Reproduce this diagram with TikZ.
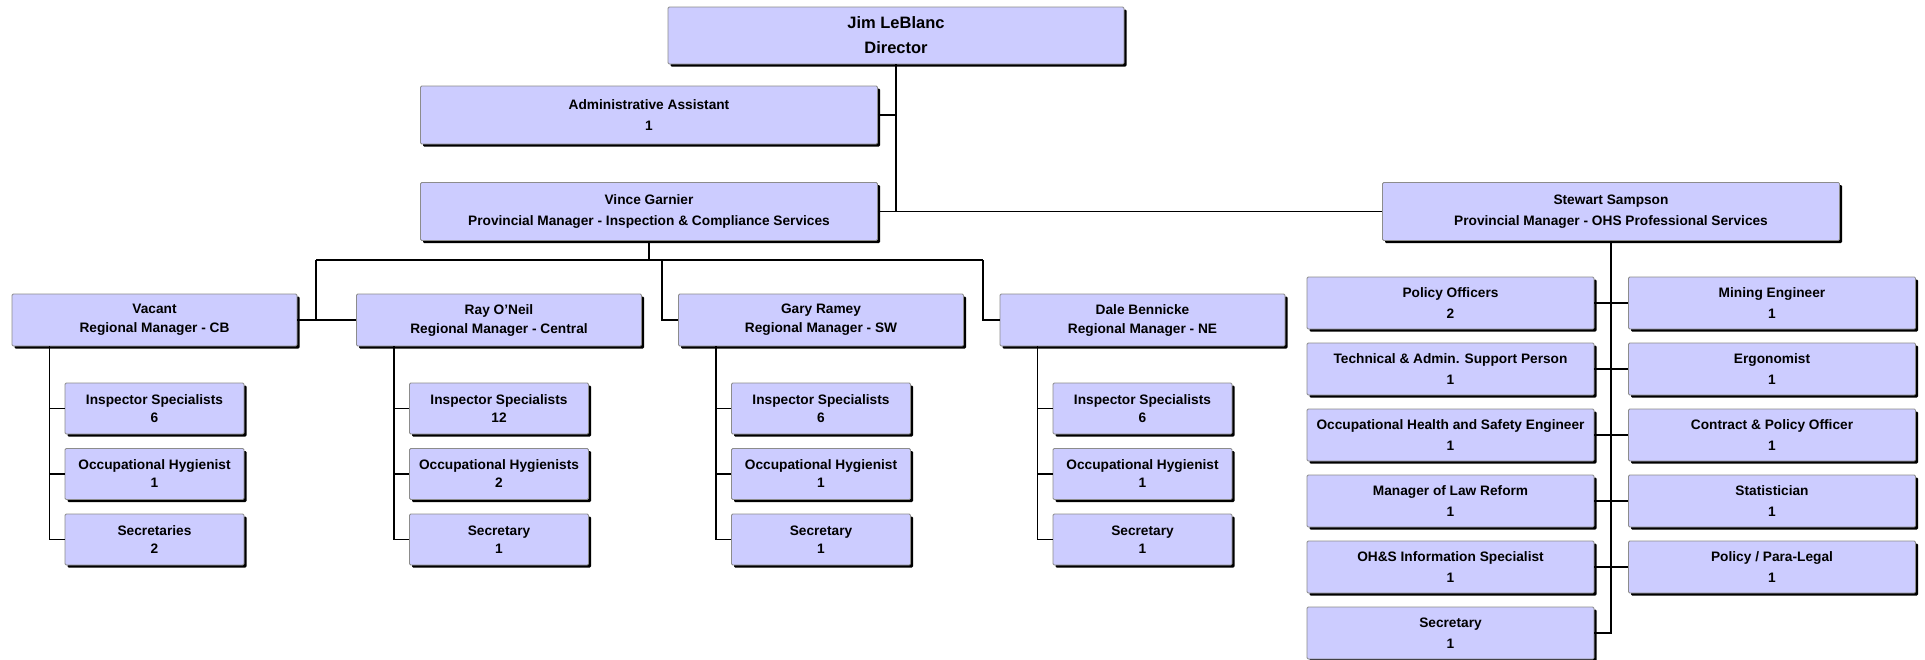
\documentclass[tikz,border=0pt]{standalone}
\usepackage{fontspec}
\setmainfont{Liberation Sans}
\usetikzlibrary{shadows}
\usetikzlibrary{calc}
\definecolor{boxfill}{HTML}{CCCCFF}
\definecolor{boxedge}{HTML}{8C8C8C}
\tikzset{
    orgbox/.style={rectangle, draw=boxedge, line width=0.8pt, fill=boxfill,
        rounded corners=1.2pt, align=center, inner sep=0pt,
        drop shadow={shadow xshift=2.5pt, shadow yshift=-2.5pt, fill=black, opacity=1}},
    dirbox/.style={orgbox, minimum width=456pt, minimum height=57pt,
        font=\bfseries\fontsize{16.5}{25}\selectfont},
    mgrbox/.style={orgbox, minimum width=457pt, minimum height=58pt,
        font=\bfseries\fontsize{13.7}{21}\selectfont},
    regbox/.style={orgbox, minimum width=285pt, minimum height=52pt,
        font=\bfseries\fontsize{13.7}{19}\selectfont},
    staffbox/.style={orgbox, minimum width=179pt, minimum height=51pt,
        font=\bfseries\fontsize{13.7}{18}\selectfont},
    ohsbox/.style={orgbox, minimum width=287pt, minimum height=52pt,
        font=\bfseries\fontsize{13.7}{21}\selectfont},
    link/.style={draw=black, line width=1.4pt},
}

\begin{document}
\begin{tikzpicture}[x=1pt,y=-1pt]
	\useasboundingbox (0,0) rectangle (1925,659);
	% top of the chart
	\node[dirbox] (dir) at (896,35.5) {Jim LeBlanc\\Director};
	\node[mgrbox] (admin) at (649,115) {Administrative Assistant\\1};
	\node[mgrbox] (vince) at (649,211.5) {Vince Garnier\\Provincial Manager - Inspection \& Compliance Services};
	\node[mgrbox] (stew) at (1611,211.5) {Stewart Sampson\\Provincial Manager - OHS Professional Services};
	\draw[link] (dir.south) -- (dir.south |- stew.west);
	\draw[link] (admin.east) -- (admin.east -| dir.south);
	\draw[link] (vince.east) -- (stew.west);

	% regional managers
	\node[regbox] (cb) at (154.5,320) {Vacant\\Regional Manager - CB};
	\node[regbox] (ray) at (499,320) {Ray O'Neil\\Regional Manager - Central};
	\node[regbox] (gary) at (821,320) {Gary Ramey\\Regional Manager - SW};
	\node[regbox] (dale) at (1142.5,320) {Dale Bennicke\\Regional Manager - NE};
	\coordinate (bus1) at (316,260);
	\coordinate (bus2) at (662,260);
	\coordinate (bus3) at (983,260);
	\draw[link] (vince.south) -- (vince.south |- bus1);
	\draw[link] (bus1) -- (bus3);
	\draw[link] (bus1) -- (bus1 |- cb.east);
	\draw[link] (cb.east) -- (ray.west);
	\draw[link] (bus2) |- (gary.west);
	\draw[link] (bus3) |- (dale.west);

	% staff of each region
	\foreach \reg/\ni/\oh/\nh/\sec/\ns in {cb/6/Occupational Hygienist/1/Secretaries/2,
	    ray/12/Occupational Hygienists/2/Secretary/1,
	    gary/6/Occupational Hygienist/1/Secretary/1,
	    dale/6/Occupational Hygienist/1/Secretary/1}
	{
	    \node[staffbox] (\reg-1) at ($(\reg)+(0,88.5)$) {Inspector Specialists\\\ni};
	    \node[staffbox] (\reg-2) at ($(\reg)+(0,154)$) {\oh\\\nh};
	    \node[staffbox] (\reg-3) at ($(\reg)+(0,219.5)$) {\sec\\\ns};
	    \coordinate (\reg-top) at ($(\reg.south)+(-105,0)$);
	    \draw[link] (\reg-top) |- (\reg-3.west);
	    \draw[link] (\reg-1.west) -- (\reg-1.west -| \reg-top);
	    \draw[link] (\reg-2.west) -- (\reg-2.west -| \reg-top);
	}

	% OHS professional services
	\foreach \i/\lt/\ln/\rt/\rn in {1/Policy Officers/2/Mining Engineer/1,
	    2/Technical \& Admin. Support Person/1/Ergonomist/1,
	    3/Occupational Health and Safety Engineer/1/Contract \& Policy Officer/1,
	    4/Manager of Law Reform/1/Statistician/1,
	    5/OH\&S Information Specialist/1/{Policy / Para-Legal}/1}
	{
	    \node[ohsbox] (L\i) at (1450.5,{237+66*\i}) {\lt\\\ln};
	    \node[ohsbox] (R\i) at (1772,{237+66*\i}) {\rt\\\rn};
	    \draw[link] (L\i.east) -- (R\i.west);
	}
	\node[ohsbox] (L6) at (1450.5,633) {Secretary\\1};
	\draw[link] (stew.south) |- (L6.east);
\end{tikzpicture}
\end{document}
